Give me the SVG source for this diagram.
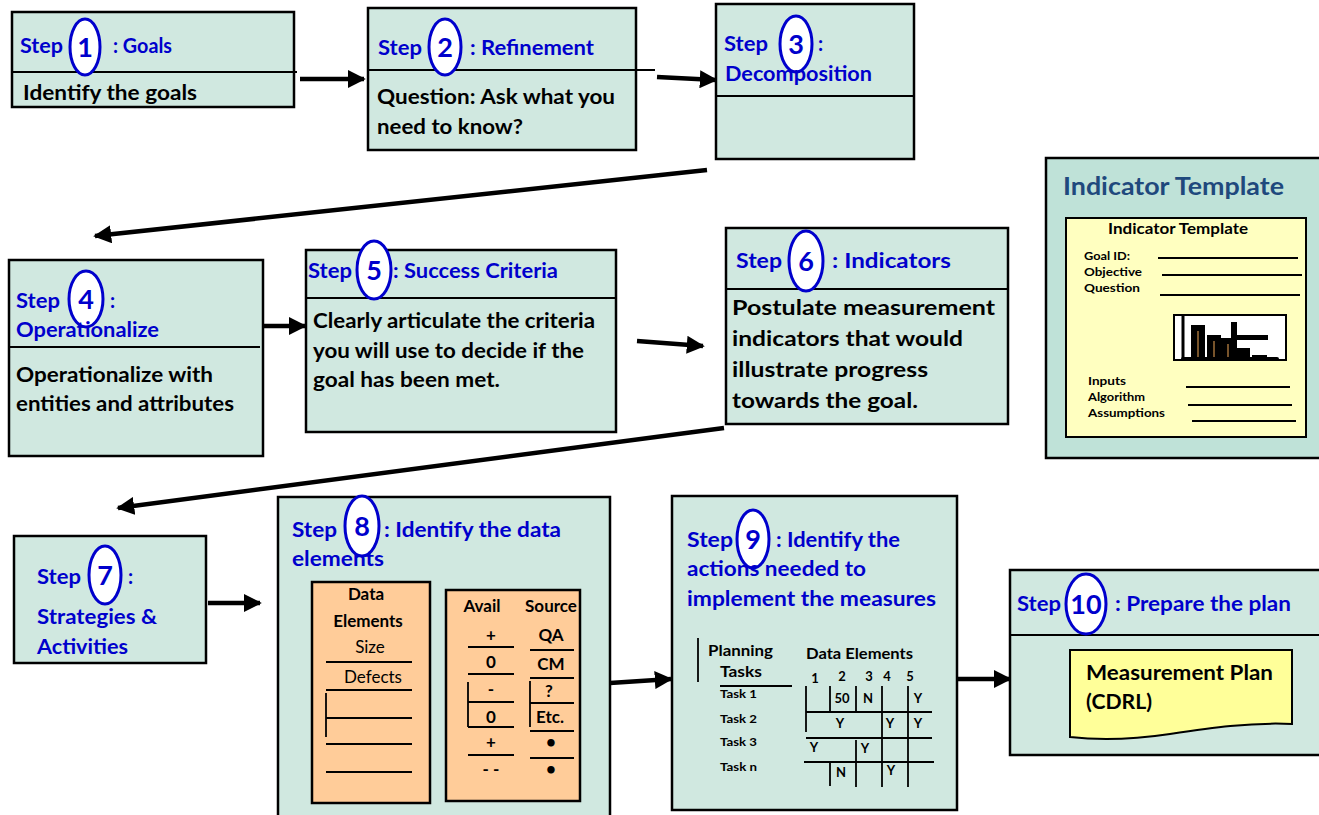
<svg xmlns="http://www.w3.org/2000/svg" width="1319" height="815" viewBox="0 0 1319 815">
<defs>
<marker id="ah" viewBox="0 0 10 10" refX="9" refY="5" markerWidth="4" markerHeight="4" orient="auto" markerUnits="strokeWidth">
<path d="M0,0 L10,5 L0,10 Z" fill="#000"/>
</marker>
<style>
.box{fill:#D0E8E0;stroke:#000;stroke-width:2.5}
.ln{stroke:#000;stroke-width:2;fill:none}
.tl{stroke:#000;stroke-width:1.8;fill:none}
.st{font-family:Lato,"Liberation Sans",sans-serif;font-weight:bold;fill:#0000CC;font-size:20px}
.num{font-family:Lato,"Liberation Sans",sans-serif;font-weight:bold;fill:#0000CC;font-size:27px;text-anchor:middle}
.ov{fill:#fff;stroke:#0000CC;stroke-width:3}
.bd{font-family:Lato,"Liberation Sans",sans-serif;font-weight:bold;fill:#000;font-size:20px}
.b6{font-family:Lato,"Liberation Sans",sans-serif;font-weight:bold;fill:#000;font-size:21px}
.sm{font-family:Lato,"Liberation Sans",sans-serif;font-weight:bold;fill:#000;font-size:15px}
.smc{font-family:Lato,"Liberation Sans",sans-serif;font-weight:bold;fill:#000;font-size:17px;text-anchor:middle}
.smn{font-family:Lato,"Liberation Sans",sans-serif;font-weight:normal;fill:#000;font-size:17px;text-anchor:middle}
.xs{font-family:Lato,"Liberation Sans",sans-serif;font-weight:bold;fill:#000;font-size:12px}
.xc{font-family:Lato,"Liberation Sans",sans-serif;font-weight:bold;fill:#000;font-size:13px;text-anchor:middle}
.peach{fill:#FFCC99;stroke:#000;stroke-width:2.5}
.arr{stroke:#000;stroke-width:4.5;fill:none;marker-end:url(#ah)}
</style>
</defs>

<g id="connectors">
<line class="arr" x1="300" y1="79" x2="364" y2="79"/>
<line class="arr" x1="657" y1="77" x2="716" y2="80"/>
<line class="arr" x1="707" y1="170" x2="95" y2="236"/>
<line class="arr" x1="260" y1="326" x2="305" y2="326"/>
<line class="arr" x1="637" y1="341" x2="703" y2="346"/>
<line class="arr" x1="724" y1="428" x2="118" y2="508"/>
<line class="arr" x1="208" y1="603" x2="260" y2="603"/>
<line class="arr" x1="610" y1="683" x2="671" y2="679"/>
<line class="arr" x1="957" y1="679" x2="1010" y2="679"/>
</g>

<g id="step1">
<rect class="box" x="12" y="12" width="282" height="95"/>
<line class="ln" x1="12" y1="72" x2="297" y2="72"/>
<text class="st" x="20" y="53" textLength="43" lengthAdjust="spacingAndGlyphs">Step</text>
<ellipse class="ov" cx="85" cy="47" rx="15" ry="28"/>
<text class="num" x="85" y="57">1</text>
<text class="st" x="113" y="53" textLength="59" lengthAdjust="spacingAndGlyphs">: Goals</text>
<text class="bd" x="23" y="100" textLength="174" lengthAdjust="spacingAndGlyphs">Identify the goals</text>
</g>

<g id="step2">
<rect class="box" x="368" y="8" width="268" height="142"/>
<line class="ln" x1="368" y1="70" x2="655" y2="70"/>
<text class="st" x="378" y="55" textLength="44" lengthAdjust="spacingAndGlyphs">Step</text>
<ellipse class="ov" cx="445" cy="47" rx="16" ry="28"/>
<text class="num" x="445" y="57">2</text>
<text class="st" x="470" y="55" textLength="124" lengthAdjust="spacingAndGlyphs">: Refinement</text>
<text class="bd" x="377" y="104" textLength="238" lengthAdjust="spacingAndGlyphs">Question:  Ask what you</text>
<text class="bd" x="377" y="134" textLength="146" lengthAdjust="spacingAndGlyphs">need to know?</text>
</g>

<g id="step3">
<rect class="box" x="716" y="4" width="198" height="155"/>
<line class="ln" x1="716" y1="96" x2="914" y2="96"/>
<text class="st" x="724" y="51" textLength="44" lengthAdjust="spacingAndGlyphs">Step</text>
<ellipse class="ov" cx="796" cy="44" rx="16" ry="28"/>
<text class="num" x="796" y="54">3</text>
<text class="st" x="818" y="51">:</text>
<text class="st" x="725" y="81" textLength="147" lengthAdjust="spacingAndGlyphs">Decomposition</text>
</g>

<g id="step4">
<rect class="box" x="9" y="260" width="254" height="196"/>
<line class="ln" x1="9" y1="347" x2="260" y2="347"/>
<text class="st" x="16" y="308" textLength="44" lengthAdjust="spacingAndGlyphs">Step</text>
<ellipse class="ov" cx="86" cy="299" rx="17" ry="28"/>
<text class="num" x="86" y="309">4</text>
<text class="st" x="110" y="308">:</text>
<text class="st" x="16" y="337" textLength="143" lengthAdjust="spacingAndGlyphs">Operationalize</text>
<text class="b6" x="16" y="382" textLength="197" lengthAdjust="spacingAndGlyphs">Operationalize  with</text>
<text class="b6" x="16" y="411" textLength="218" lengthAdjust="spacingAndGlyphs">entities and attributes</text>
</g>

<g id="step5">
<rect class="box" x="306" y="250" width="310" height="182"/>
<line class="ln" x1="306" y1="298" x2="616" y2="298"/>
<text class="st" x="308" y="278" textLength="44" lengthAdjust="spacingAndGlyphs">Step</text>
<ellipse class="ov" cx="374" cy="270" rx="17" ry="29"/>
<text class="num" x="374" y="280">5</text>
<text class="st" x="393" y="278" textLength="165" lengthAdjust="spacingAndGlyphs">: Success Criteria</text>
<text class="bd" x="313" y="328" textLength="282" lengthAdjust="spacingAndGlyphs">Clearly articulate the criteria</text>
<text class="bd" x="313" y="358" textLength="271" lengthAdjust="spacingAndGlyphs">you will use to decide if the</text>
<text class="bd" x="313" y="387" textLength="187" lengthAdjust="spacingAndGlyphs">goal has been met.</text>
</g>

<g id="step6">
<rect class="box" x="726" y="228" width="282" height="196"/>
<line class="ln" x1="726" y1="289" x2="1008" y2="289"/>
<text class="st" x="736" y="268" textLength="46" lengthAdjust="spacingAndGlyphs">Step</text>
<ellipse class="ov" cx="806" cy="261" rx="17" ry="30"/>
<text class="num" x="806" y="271">6</text>
<text class="st" x="832" y="268" textLength="119" lengthAdjust="spacingAndGlyphs">: Indicators</text>
<text class="b6" x="732" y="315" textLength="263" lengthAdjust="spacingAndGlyphs">Postulate measurement</text>
<text class="b6" x="732" y="346" textLength="231" lengthAdjust="spacingAndGlyphs">indicators that would</text>
<text class="b6" x="732" y="377" textLength="196" lengthAdjust="spacingAndGlyphs">illustrate progress</text>
<text class="b6" x="732" y="408" textLength="186" lengthAdjust="spacingAndGlyphs">towards the goal.</text>
</g>

<g id="indicator-template">
<rect x="1046" y="158" width="275" height="300" fill="#BFE2D8" stroke="#000" stroke-width="2.5"/>
<text x="1063" y="195" font-family="Lato, 'Liberation Sans', sans-serif" font-weight="bold" font-size="24" fill="#1F497D" textLength="221" lengthAdjust="spacingAndGlyphs">Indicator Template</text>
<rect x="1066" y="218" width="240" height="219" fill="#FFFFC0" stroke="#000" stroke-width="2"/>
<text x="1108" y="234" font-family="Lato, 'Liberation Sans', sans-serif" font-weight="bold" font-size="15" fill="#000" textLength="140" lengthAdjust="spacingAndGlyphs">Indicator Template</text>
<text class="xs" x="1084" y="260" textLength="46" lengthAdjust="spacingAndGlyphs">Goal ID:</text>
<text class="xs" x="1084" y="276" textLength="58" lengthAdjust="spacingAndGlyphs">Objective</text>
<text class="xs" x="1084" y="292" textLength="56" lengthAdjust="spacingAndGlyphs">Question</text>
<line class="ln" x1="1158" y1="258" x2="1298" y2="258"/>
<line class="ln" x1="1162" y1="275" x2="1302" y2="275"/>
<line class="ln" x1="1160" y1="295" x2="1300" y2="295"/>
<rect x="1174" y="315" width="112" height="45" fill="#fff" stroke="#000" stroke-width="2"/>
<line x1="1183" y1="315" x2="1183" y2="360" stroke="#000" stroke-width="3"/>
<rect x="1191" y="325" width="14" height="34" fill="#000"/>
<line x1="1198" y1="331" x2="1198" y2="358" stroke="#A0703A" stroke-width="1.5"/>
<rect x="1207" y="335" width="14" height="24" fill="#000"/>
<line x1="1214" y1="341" x2="1214" y2="358" stroke="#A0703A" stroke-width="1.5"/>
<rect x="1221" y="338" width="13" height="21" fill="#000"/>
<line x1="1228" y1="344" x2="1228" y2="358" stroke="#A0703A" stroke-width="1.5"/>
<rect x="1231" y="322" width="6" height="37" fill="#000"/>
<rect x="1231" y="335" width="37" height="5" fill="#000"/>
<rect x="1237" y="348" width="13" height="11" fill="#000"/>
<rect x="1252" y="355" width="15" height="4" fill="#000"/>
<rect x="1181" y="357" width="98" height="4" rx="2" fill="#000"/>
<text class="xs" x="1088" y="385" textLength="38" lengthAdjust="spacingAndGlyphs">Inputs</text>
<text class="xs" x="1088" y="401" textLength="57" lengthAdjust="spacingAndGlyphs">Algorithm</text>
<text class="xs" x="1088" y="417" textLength="77" lengthAdjust="spacingAndGlyphs">Assumptions</text>
<line class="ln" x1="1186" y1="387" x2="1290" y2="387"/>
<line class="ln" x1="1188" y1="405" x2="1292" y2="405"/>
<line class="ln" x1="1192" y1="421" x2="1296" y2="421"/>
</g>

<g id="step7">
<rect class="box" x="14" y="536" width="192" height="127"/>
<text class="st" x="37" y="584" textLength="44" lengthAdjust="spacingAndGlyphs">Step</text>
<ellipse class="ov" cx="105" cy="575" rx="16" ry="29"/>
<text class="num" x="105" y="585">7</text>
<text class="st" x="128" y="584">:</text>
<text class="st" x="37" y="624" textLength="120" lengthAdjust="spacingAndGlyphs">Strategies &amp;</text>
<text class="st" x="37" y="654" textLength="91" lengthAdjust="spacingAndGlyphs">Activities</text>
</g>

<g id="step8">
<rect class="box" x="278" y="497" width="332" height="320"/>
<text class="st" x="292" y="537" textLength="45" lengthAdjust="spacingAndGlyphs">Step</text>
<ellipse class="ov" cx="362" cy="526" rx="17" ry="30"/>
<text class="num" x="362" y="536">8</text>
<text class="st" x="384" y="537" textLength="177" lengthAdjust="spacingAndGlyphs">: Identify the data</text>
<text class="st" x="292" y="566" textLength="92" lengthAdjust="spacingAndGlyphs">elements</text>
<rect class="peach" x="312" y="582" width="118" height="221"/>
<text class="smc" x="366" y="600">Data</text>
<text class="smc" x="368" y="627">Elements</text>
<text class="smn" x="370" y="653">Size</text>
<line class="tl" x1="326" y1="662" x2="412" y2="662"/>
<text class="smn" x="373" y="683">Defects</text>
<line class="tl" x1="326" y1="690" x2="412" y2="690"/>
<line class="tl" x1="326" y1="693" x2="326" y2="737"/>
<line class="tl" x1="326" y1="718" x2="412" y2="718"/>
<line class="tl" x1="326" y1="744" x2="412" y2="744"/>
<line class="tl" x1="326" y1="772" x2="412" y2="772"/>
<rect class="peach" x="446" y="590" width="134" height="211"/>
<text class="smc" x="482" y="612">Avail</text>
<text class="smc" x="551" y="612">Source</text>
<text class="smc" x="491" y="641">+</text>
<text class="smc" x="551" y="641">QA</text>
<line class="tl" x1="468" y1="647" x2="514" y2="647"/>
<line class="tl" x1="530" y1="650" x2="574" y2="650"/>
<text class="smc" x="491" y="668">0</text>
<text class="smc" x="551" y="670">CM</text>
<line class="tl" x1="468" y1="674" x2="514" y2="674"/>
<line class="tl" x1="530" y1="678" x2="574" y2="678"/>
<text class="smc" x="491" y="695">-</text>
<text class="smc" x="549" y="697">?</text>
<line class="tl" x1="468" y1="682" x2="468" y2="727"/>
<line class="tl" x1="530" y1="681" x2="530" y2="727"/>
<line class="tl" x1="468" y1="702" x2="514" y2="702"/>
<line class="tl" x1="530" y1="703" x2="574" y2="703"/>
<text class="smc" x="491" y="723">0</text>
<text class="smc" x="550" y="723">Etc.</text>
<line class="tl" x1="468" y1="727" x2="514" y2="727"/>
<line class="tl" x1="530" y1="731" x2="574" y2="731"/>
<text class="smc" x="491" y="748">+</text>
<text class="smc" x="551" y="748">•</text>
<line class="tl" x1="468" y1="755" x2="514" y2="755"/>
<line class="tl" x1="530" y1="758" x2="574" y2="758"/>
<text class="smc" x="491" y="775">- -</text>
<text class="smc" x="551" y="775">•</text>
</g>

<g id="step9">
<rect class="box" x="672" y="496" width="285" height="314"/>
<text class="st" x="687" y="547" textLength="46" lengthAdjust="spacingAndGlyphs">Step</text>
<ellipse class="ov" cx="753" cy="539" rx="16" ry="29"/>
<text class="num" x="753" y="549">9</text>
<text class="st" x="776" y="547" textLength="124" lengthAdjust="spacingAndGlyphs">: Identify the</text>
<text class="st" x="687" y="576" textLength="179" lengthAdjust="spacingAndGlyphs">actions  needed to</text>
<text class="st" x="687" y="606" textLength="249" lengthAdjust="spacingAndGlyphs">implement the measures</text>
<line class="tl" x1="698" y1="638" x2="698" y2="682"/>
<text class="sm" x="708" y="656" textLength="65" lengthAdjust="spacingAndGlyphs">Planning</text>
<text class="sm" x="720" y="677" textLength="42" lengthAdjust="spacingAndGlyphs">Tasks</text>
<line class="tl" x1="720" y1="686" x2="792" y2="686"/>
<text class="sm" x="806" y="659" textLength="107" lengthAdjust="spacingAndGlyphs">Data Elements</text>
<text class="xc" x="815" y="683">1</text>
<text class="xc" x="842" y="681">2</text>
<text class="xc" x="869" y="681">3</text>
<text class="xc" x="887" y="681">4</text>
<text class="xc" x="910" y="681">5</text>
<text class="xs" x="720" y="698" textLength="37" lengthAdjust="spacingAndGlyphs">Task 1</text>
<text class="xs" x="720" y="723" textLength="37" lengthAdjust="spacingAndGlyphs">Task 2</text>
<text class="xs" x="720" y="746" textLength="37" lengthAdjust="spacingAndGlyphs">Task 3</text>
<text class="xs" x="720" y="771" textLength="37" lengthAdjust="spacingAndGlyphs">Task n</text>
<line class="tl" x1="806" y1="686" x2="806" y2="732"/>
<line class="tl" x1="830" y1="686" x2="830" y2="712"/>
<line class="tl" x1="830" y1="762" x2="830" y2="786"/>
<line class="tl" x1="856" y1="686" x2="856" y2="712"/>
<line class="tl" x1="856" y1="740" x2="856" y2="787"/>
<line class="tl" x1="882" y1="686" x2="882" y2="787"/>
<line class="tl" x1="908" y1="686" x2="908" y2="787"/>
<line class="tl" x1="806" y1="712" x2="932" y2="712"/>
<line class="tl" x1="806" y1="738" x2="932" y2="738"/>
<line class="tl" x1="804" y1="762" x2="934" y2="762"/>
<text class="xc" x="842" y="703">50</text>
<text class="xc" x="868" y="703">N</text>
<text class="xc" x="918" y="703">Y</text>
<text class="xc" x="840" y="728">Y</text>
<text class="xc" x="890" y="728">Y</text>
<text class="xc" x="918" y="728">Y</text>
<text class="xc" x="814" y="752">Y</text>
<text class="xc" x="865" y="753">Y</text>
<text class="xc" x="841" y="777">N</text>
<text class="xc" x="891" y="775">Y</text>
</g>

<g id="step10">
<rect class="box" x="1010" y="570" width="312" height="185"/>
<line class="ln" x1="1010" y1="635" x2="1319" y2="635"/>
<text class="st" x="1017" y="611" textLength="44" lengthAdjust="spacingAndGlyphs">Step</text>
<ellipse class="ov" cx="1086" cy="604" rx="20" ry="30"/>
<text class="num" x="1086" y="614">10</text>
<text class="st" x="1115" y="611" textLength="176" lengthAdjust="spacingAndGlyphs">: Prepare the plan</text>
<path d="M1070,650 H1292 V724 C1250,722 1210,728 1170,734 C1130,740 1095,740 1070,737 Z" fill="#FFFF99" stroke="#000" stroke-width="2"/>
<text class="bd" x="1086" y="680" textLength="187" lengthAdjust="spacingAndGlyphs">Measurement Plan</text>
<text class="bd" x="1086" y="709" textLength="66" lengthAdjust="spacingAndGlyphs">(CDRL)</text>
</g>
</svg>
